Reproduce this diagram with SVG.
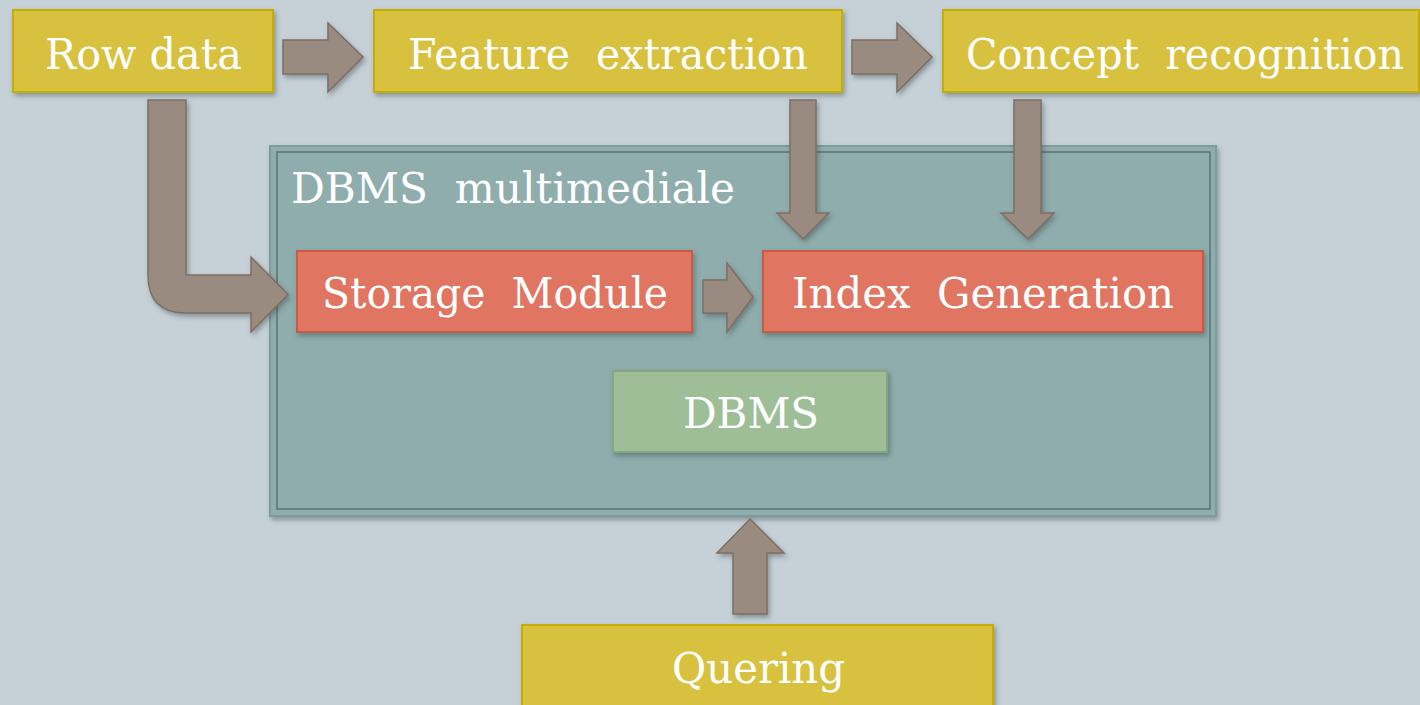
<svg xmlns="http://www.w3.org/2000/svg" width="1420" height="705" viewBox="0 0 1420 705">
<defs>
<filter id="sh" x="-10%" y="-10%" width="120%" height="130%">
<feDropShadow dx="2" dy="3" stdDeviation="2.5" flood-color="#3a4a50" flood-opacity="0.45"/>
</filter>
<style>
.yel{fill:#d9c141;stroke:#c6ad00;stroke-width:2}
.red{fill:#e07462;stroke:#c95a45;stroke-width:2}
.grn{fill:#9ebe98;stroke:#85a77f;stroke-width:2}
.arr{fill:#9a8b80;stroke:#7f6d63;stroke-width:1.5;stroke-linejoin:miter}
.t{font-family:"DejaVu Serif","Liberation Serif",serif;font-size:42px;fill:#ffffff;white-space:pre}
</style>
</defs>
<rect width="1420" height="705" fill="#c6d1d7"/>
<g id="dbms-multimediale">
<rect x="270" y="146" width="946" height="370" fill="#8eadac" stroke="#7d9c9c" stroke-width="2" filter="url(#sh)"/>
<rect x="277" y="152" width="933" height="357" fill="none" stroke="#5b7172" stroke-width="1.5"/>
<text class="t" x="291" y="203" textLength="444" lengthAdjust="spacingAndGlyphs">DBMS&#160; multimediale</text>
</g>
<g id="row-data">
<rect class="yel" x="13" y="10" width="260" height="82" filter="url(#sh)"/>
<text class="t" x="45" y="69" textLength="197" lengthAdjust="spacingAndGlyphs">Row data</text>
</g>
<g id="feature-extraction">
<rect class="yel" x="374" y="10" width="468" height="82" filter="url(#sh)"/>
<text class="t" x="408" y="69" textLength="400" lengthAdjust="spacingAndGlyphs">Feature&#160; extraction</text>
</g>
<g id="concept-recognition">
<rect class="yel" x="943" y="10" width="476" height="82" filter="url(#sh)"/>
<text class="t" x="966" y="69" textLength="438" lengthAdjust="spacingAndGlyphs">Concept&#160; recognition</text>
</g>
<g id="storage-module">
<rect class="red" x="297" y="251" width="395" height="81" filter="url(#sh)"/>
<text class="t" x="322" y="308" textLength="346" lengthAdjust="spacingAndGlyphs">Storage&#160; Module</text>
</g>
<g id="index-generation">
<rect class="red" x="763" y="251" width="440" height="81" filter="url(#sh)"/>
<text class="t" x="792" y="308" textLength="382" lengthAdjust="spacingAndGlyphs">Index&#160; Generation</text>
</g>
<g id="dbms">
<rect class="grn" x="613" y="371" width="274" height="81" filter="url(#sh)"/>
<text class="t" x="683" y="428" textLength="136" lengthAdjust="spacingAndGlyphs">DBMS</text>
</g>
<g id="quering">
<rect class="yel" x="522" y="625" width="471" height="90" filter="url(#sh)"/>
<text class="t" x="672" y="683" textLength="173" lengthAdjust="spacingAndGlyphs">Quering</text>
</g>
<g id="connectors" filter="url(#sh)">
<path class="arr" d="M283,40 H328 V23 L363,57 L328,92 V74 H283 Z"/>
<path class="arr" d="M852,40 H897 V23 L932,57 L897,92 V74 H852 Z"/>
<path class="arr" d="M148,100 H186 V275 H251 V257 L288,294.5 L251,332 V313 H186 Q148,313 148,275 Z"/>
<path class="arr" d="M790,100 H816 V213 H829 L803,239 L777,213 H790 Z"/>
<path class="arr" d="M1014,100 H1041 V213 H1054 L1028,239 L1001,213 H1014 Z"/>
<path class="arr" d="M703,280 H727 V263 L753,297 L727,332 V313 H703 Z"/>
<path class="arr" d="M733,614 V553 H717 L750,519 L784,553 H767 V614 Z"/>
</g>
</svg>
